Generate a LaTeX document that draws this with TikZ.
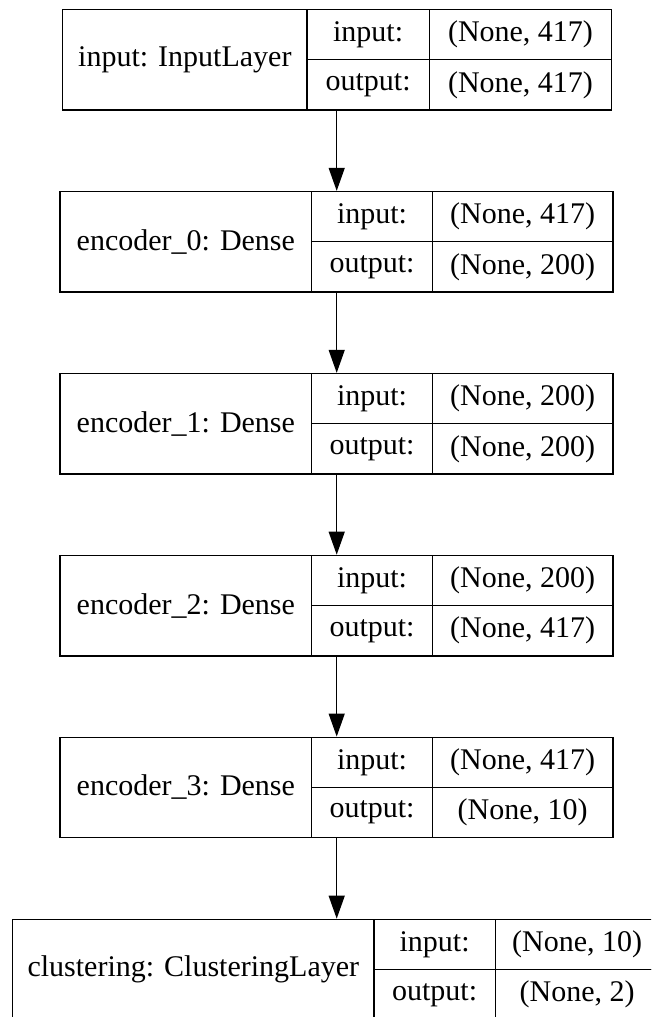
\documentclass[tikz,border=0pt]{standalone}
\usepackage{fontspec}
\setmainfont{Liberation Serif}
\usetikzlibrary{arrows.meta}
\begin{document}
\begin{tikzpicture}[x=1pt,y=-1pt,
		cell/.style={draw,rectangle,inner sep=0pt,line width=1.3pt,font=\fontsize{30}{35}\selectfont},
		lbl/.style={cell,minimum height=100.6pt},
		row/.style={cell,minimum height=50.3pt},
		flow/.style={line width=1.3pt,-{Triangle[length=23pt,width=16pt]}}]
		\clip (0,0) rectangle (651,1017);
		\coordinate (ax) at (336.7,0);
		
		\node[lbl, minimum width=244.3pt] (inp) at (184.85,59.8) {input: InputLayer};
		\node[row, minimum width=122.3pt] (inp-in) at (368.15,34.65) {input:};
		\node[row, minimum width=122.3pt] (inp-out) at (368.15,84.95) {output:};
		\node[row, minimum width=182.4pt] (inp-inval) at (520.5,34.65) {(None, 417)};
		\node[row, minimum width=182.4pt] (inp-outval) at (520.5,84.95) {(None, 417)};
		
		\node[lbl, minimum width=251.7pt] (enc0) at (185.85,241.8) {encoder\_0: Dense};
		\node[row, minimum width=120.6pt] (enc0-in) at (372,216.65) {input:};
		\node[row, minimum width=120.6pt] (enc0-out) at (372,266.95) {output:};
		\node[row, minimum width=180.7pt] (enc0-inval) at (522.65,216.65) {(None, 417)};
		\node[row, minimum width=180.7pt] (enc0-outval) at (522.65,266.95) {(None, 200)};
		
		\node[lbl, minimum width=251.7pt] (enc1) at (185.85,423.8) {encoder\_1: Dense};
		\node[row, minimum width=120.6pt] (enc1-in) at (372,398.65) {input:};
		\node[row, minimum width=120.6pt] (enc1-out) at (372,448.95) {output:};
		\node[row, minimum width=180.7pt] (enc1-inval) at (522.65,398.65) {(None, 200)};
		\node[row, minimum width=180.7pt] (enc1-outval) at (522.65,448.95) {(None, 200)};
		
		\node[lbl, minimum width=251.7pt] (enc2) at (185.85,605.6) {encoder\_2: Dense};
		\node[row, minimum width=120.6pt] (enc2-in) at (372,580.45) {input:};
		\node[row, minimum width=120.6pt] (enc2-out) at (372,630.75) {output:};
		\node[row, minimum width=180.7pt] (enc2-inval) at (522.65,580.45) {(None, 200)};
		\node[row, minimum width=180.7pt] (enc2-outval) at (522.65,630.75) {(None, 417)};
		
		\node[lbl, minimum width=251.7pt] (enc3) at (185.85,787.5) {encoder\_3: Dense};
		\node[row, minimum width=120.6pt] (enc3-in) at (372,762.35) {input:};
		\node[row, minimum width=120.6pt] (enc3-out) at (372,812.65) {output:};
		\node[row, minimum width=180.7pt] (enc3-inval) at (522.65,762.35) {(None, 417)};
		\node[row, minimum width=180.7pt] (enc3-outval) at (522.65,812.65) {(None, 10)};
		
		\node[lbl, minimum width=361.3pt] (clus) at (193.35,969.6) {clustering: ClusteringLayer};
		\node[row, minimum width=121.3pt] (clus-in) at (434.65,944.45) {input:};
		\node[row, minimum width=121.3pt] (clus-out) at (434.65,994.75) {output:};
		\node[row, minimum width=163.7pt] (clus-inval) at (577.15,944.45) {(None, 10)};
		\node[row, minimum width=163.7pt] (clus-outval) at (577.15,994.75) {(None, 2)};
		
		\draw[flow] (inp.south -| ax) -- (enc0.north -| ax);
		\draw[flow] (enc0.south -| ax) -- (enc1.north -| ax);
		\draw[flow] (enc1.south -| ax) -- (enc2.north -| ax);
		\draw[flow] (enc2.south -| ax) -- (enc3.north -| ax);
		\draw[flow] (enc3.south -| ax) -- (clus.north -| ax);
\end{tikzpicture}
\end{document}
